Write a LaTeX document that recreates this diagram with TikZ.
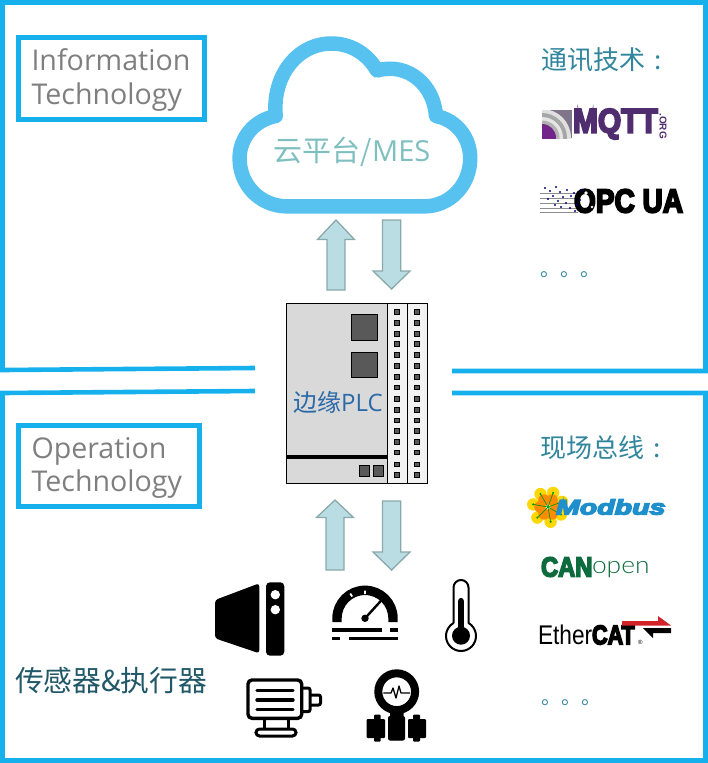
\documentclass[tikz,border=0pt]{standalone}
\usepackage{fontspec}
\usepackage{graphicx}
\setmainfont{Open Sans}
\newfontfamily\cjk{Noto Sans CJK SC}
\newfontfamily\lsans{Liberation Sans}
\newfontfamily\heavy[FakeBold=6]{Liberation Sans Bold}
\newfontfamily\thinf{Lato Light}
\definecolor{frameblue}{HTML}{16B1EC}
\definecolor{cloudblue}{HTML}{57C1F0}
\definecolor{arrowfill}{HTML}{B9DDE3}
\definecolor{arrowline}{HTML}{8AA9AA}
\definecolor{teal1}{HTML}{31859C}
\definecolor{darkteal}{HTML}{215868}
\definecolor{greytext}{HTML}{7F7F7F}
\definecolor{cloudtext}{HTML}{7FBFC0}
\definecolor{plcblue}{HTML}{2A6AA8}
\definecolor{chipgrey}{HTML}{595959}
\definecolor{mqttpurple}{HTML}{4F2D6E}
\definecolor{cangreen}{HTML}{0E6B3D}
\definecolor{modblue}{HTML}{1F8FCB}
\definecolor{ecatred}{HTML}{D2232A}
\tikzset{
  frame/.style={draw=frameblue,line width=4.6pt,line join=miter},
  infobox/.style={draw=frameblue,line width=4.8pt},
  blockarrow/.style={fill=arrowfill,draw=arrowline,line width=1.3pt,line join=miter},
  txt/.style={inner sep=0pt,outer sep=0pt},
  ink/.style={fill=black,draw=none},
  chip/.style={fill=chipgrey,draw=black,line width=0.7pt},
}
\begin{document}
\begin{tikzpicture}[x=1pt,y=-1pt]
\useasboundingbox (0,0) rectangle (708,763);
% frames
\coordinate (ta) at (255,368);
\coordinate (tb) at (452,371);
\coordinate (ba) at (255,391);
\coordinate (bb) at (452,393);
\draw[frame] (ta) -- (2.5,370) -- (2.5,2.5) -- (705.5,2.5) -- (705.5,371) -- (tb);
\draw[frame] (ba) -- (2.5,393) -- (2.5,760.5) -- (705.5,760.5) -- (705.5,393) -- (bb);
% label boxes
\node[infobox,anchor=north west,inner sep=0pt] (itbox) at (16.4,35.4) {\phantom{\rule{186pt}{81.5pt}}};
\node[txt,anchor=west,text=greytext,font=\fontsize{28.6}{30}\selectfont] (it1) at (31.5,60) {Information};
\node[txt,anchor=west,text=greytext,font=\fontsize{28.6}{30}\selectfont] (it2) at (31.5,97) {Technology};
\node[infobox,anchor=north west,inner sep=0pt] (otbox) at (16.4,423.4) {\phantom{\rule{181pt}{80.5pt}}};
\node[txt,anchor=west,text=greytext,font=\fontsize{28.6}{30}\selectfont] (ot1) at (31.5,451) {Operation};
\node[txt,anchor=west,text=greytext,font=\fontsize{28.6}{30}\selectfont] (ot2) at (31.5,484) {Technology};
% cloud
\draw[draw=cloudblue,line width=14.5pt,line join=round] (287.6,206.4)
  .. controls (260,206.4) and (239.6,185) .. (239.6,158.4)
  .. controls (239.6,137) and (255,120) .. (275.7,116)
  .. controls (272,75) and (298,43.5) .. (331.5,43.5)
  .. controls (350,43.5) and (367,53) .. (377,70.5)
  .. controls (408,62) and (434,85) .. (436,116)
  .. controls (456,120) and (470.2,137) .. (470.2,158.4)
  .. controls (470.2,185) and (450,206.4) .. (424,206.4) -- cycle;
\node[txt,text=cloudtext,font=\cjk\fontsize{29}{30}\selectfont] (cloudlbl) at (352,152) {云平台/{\rmfamily MES}};
% arrows
\draw[blockarrow] (336,220) -- (354.5,239.5) -- (345,239.5) -- (345,290) -- (327,290) -- (327,239.5) -- (317.5,239.5) -- cycle;
\draw[blockarrow] (382.5,220) -- (400.8,220) -- (400.8,271) -- (410,271) -- (391.6,289) -- (373,271) -- (382.5,271) -- cycle;
\draw[blockarrow] (335,500) -- (353.5,517.5) -- (344,517.5) -- (344,570) -- (326,570) -- (326,517.5) -- (316.5,517.5) -- cycle;
\draw[blockarrow] (382.5,501) -- (400.8,501) -- (400.8,552) -- (410,552) -- (391.6,570) -- (373,552) -- (382.5,552) -- cycle;
% PLC
\fill[fill=black!15] (286.7,303.3) rectangle (387.3,483.3);
\fill[fill=black!5] (387.3,303.3) rectangle (427.7,483.3);
\draw[black,line width=1pt] (286.7,303.3) rectangle (427.7,483.3);
\draw[black,line width=1pt] (387.3,303.3) -- (387.3,483.3);
\draw[black,line width=1pt] (407.3,303.3) -- (407.3,483.3);
\draw[black,line width=3.6pt] (286.7,456.7) -- (387.3,456.7);
\draw[chip] (351.3,314.3) rectangle (377.7,340.7);
\draw[chip] (351.3,352.3) rectangle (377.7,377.7);
\draw[chip] (359.3,465.3) rectangle (369.7,476.7);
\draw[chip] (373.3,465.3) rectangle (383.7,476.7);
\foreach \yy in {311.7,322.7,333.7,344,355,365.7,376.7,387.3,399,409.7,420.3,431,441.7,452.3,464.3,475}{
  \draw[chip] (394.6,\yy-2.3) rectangle (399.4,\yy+2.3);
  \draw[chip] (414.6,\yy-2.3) rectangle (419.4,\yy+2.3);
}
\node[txt,text=plcblue,font=\cjk\fontsize{24}{26}\selectfont] (plclbl) at (338,402) {边缘{\rmfamily PLC}};
% right headings
\node[txt,anchor=west,text=teal1,font=\cjk\fontsize{26}{26}\selectfont] (comm) at (541,60) {通讯技术\hspace{9pt}:};
\node[txt,anchor=west,text=teal1,font=\cjk\fontsize{26}{26}\selectfont] (field) at (540,448) {现场总线\hspace{9pt}:};
\node[txt,text=teal1,font=\cjk\fontsize{20}{20}\selectfont] (dots1) at (570,275) {。。。};
\node[txt,text=teal1,font=\cjk\fontsize{20}{20}\selectfont] (dots2) at (571,703) {。。。};
\node[txt,anchor=west,text=darkteal,font=\cjk\fontsize{28.8}{29}\selectfont] (sens) at (15,681) {传感器\&执行器};
% MQTT logo
\begin{scope}
\clip (542,110) rectangle (572,138);
\fill[black!45!mqttpurple!60] (542,110) rectangle (572,138);
\fill[black!12] (542,138) circle (29pt);
\fill[black!35] (542,138) circle (25pt);
\fill[black!10] (542,138) circle (21pt);
\fill[black!30] (542,138) circle (17.5pt);
\fill[mqttpurple!80!magenta] (542,138) circle (14pt);
\end{scope}
\node[txt,anchor=west,text=mqttpurple] (mqtt) at (573,124) {\scalebox{.88}[1]{\heavy\fontsize{34}{34}\selectfont MQTT}};
\node[txt,rotate=-90,text=mqttpurple,font=\lsans\bfseries\fontsize{10}{10}\selectfont] (org) at (663,126) {.ORG};
% OPC UA logo
\foreach \yy in {193,198,203,208,212}{\draw[black!45,line width=.6pt] (540,\yy) -- (578,\yy);}
\node[txt,anchor=west,text=black] (opc) at (574,201) {\scalebox{.85}[1]{\heavy\fontsize{33}{33}\selectfont OPC UA}};
\fill[white] (586,193) circle (1.8pt) (584,204) circle (1.6pt) (592,207) circle (1.4pt);
\foreach \px/\py in {545/188,550/191,556/187,560/192,553/196,563/197,548/199,558/201,567/190,571/196,566/203,574/193,561/207,570/208,577/205,555/205,581/190,580/200,575/211}{
  \fill[blue!50!black] (\px,\py) circle (1.1pt);
}
% Modbus logo
\foreach \a in {20,70,120,170,225,280,330}{
  \fill[yellow!75!orange] (548,507) ++(\a:15pt) circle (6.2pt);
}
\foreach \a in {0,60,120,180,240,300}{
  \fill[orange!90!yellow] (548,507) ++(\a:8pt) circle (5.8pt);
}
\foreach \a in {20,70,120,170,225,280,330}{
  \draw[green!60!black,line width=.7pt] (548,507) -- ++(\a:15pt);
  \fill[green!60!black] (548,507) ++(\a:15pt) circle (1.2pt);
}
\node[txt,anchor=west,text=modblue] (modbus) at (556,507) {\scalebox{1.36}[1]{\heavy\itshape\fontsize{21}{21}\selectfont Modbus}};
% CANopen logo
\node[txt,anchor=west,text=cangreen] (can) at (541,567) {\scalebox{.95}[1.1]{\heavy\fontsize{25}{25}\selectfont CAN}};
\node[txt,anchor=west,text=cangreen] (open) at (592,570) {\scalebox{1.1}[1]{\thinf\fontsize{24}{24}\selectfont open}};
% EtherCAT logo
\node[txt,anchor=west,text=black] (ether) at (538,635) {\scalebox{.84}[1]{\lsans\fontsize{27}{27}\selectfont Ether}};
\node[txt,anchor=west,text=black] (cat) at (592,635) {\scalebox{.8}[1]{\heavy\fontsize{27}{27}\selectfont CAT}};
\node[txt,anchor=west,text=black,font=\lsans\fontsize{6}{6}\selectfont] (reg) at (638,642) {®};
\fill[ecatred] (622,621) -- (658,621) -- (658,616) -- (671,625.5) -- (622,625.5) -- cycle;
\fill[black] (671,628) -- (643,628) -- (653,638) -- (653,633) -- (671,633) -- cycle;
% valve icon
\fill[ink,rounded corners=3pt] (215,600) -- (259.3,583.3) -- (259.3,653.3) -- (215,638.3) -- cycle;
\fill[ink,rounded corners=4pt] (266,582.3) rectangle (284.3,655.7);
\fill[white] (275.3,594.7) circle (4.7pt);
\fill[white] (275.3,609.7) circle (4.7pt);
% speedometer icon
\draw[black,line width=9.4pt] (337,622) -- (337,618.3) arc[start angle=180,end angle=0,radius=28pt] -- (393,622);
\fill[white] (364.2,590.5) rectangle (365.8,594) (349.5,594) -- (351,593) -- (353,596) -- (351.5,597) -- cycle;
\draw[black,line width=2.4pt] (365,618.3) -- (382.3,599.3);
\fill[black] (365,618.3) circle (3.7pt);
\fill[ink] (332.3,628.3) rectangle (381.7,632);
\fill[ink] (390,628.3) rectangle (397.7,632);
\fill[ink] (332.3,636.5) rectangle (340.3,640.2);
\fill[ink] (349,636.5) rectangle (397.7,640.2);
% thermometer icon
\draw[black,line width=2pt,line join=round] (453.5,623) -- (453.5,587.5) arc[start angle=180,end angle=0,radius=7.5pt] -- (468.5,623)
  arc[start angle=60,end angle=-240,radius=15pt];
\fill[ink] (458.2,600.7) rectangle (463.8,630);
\fill[black] (461,635.7) circle (9pt);
\fill[black] (461,600.7) circle (2.8pt);
% motor icon
\draw[black,line width=3.4pt,rounded corners=4pt] (248,680) rectangle (301.7,718.3);
\draw[black,line width=3.4pt,line cap=round] (257,690.7) -- (293,690.7);
\draw[black,line width=3.4pt,line cap=round] (257,700) -- (293,700);
\draw[black,line width=3.4pt,line cap=round] (257,709.3) -- (293,709.3);
\draw[black,line width=3pt,rounded corners=2pt] (301.7,688) -- (310,688) -- (310,711.7) -- (301.7,711.7);
\draw[black,line width=3pt,rounded corners=2pt] (310,695) -- (320.5,695) -- (320.5,705) -- (310,705);
\draw[black,line width=3pt] (264,718) -- (264,729) (288,718) -- (288,729);
\draw[black,line width=3pt,rounded corners=3.5pt] (256,729) rectangle (296,736);
% pressure gauge icon
\fill[ink,rounded corners=1.5pt] (390,710) rectangle (403.5,740);
\fill[ink,rounded corners=2pt] (388,716) rectangle (405,740.5);
\fill[ink,rounded corners=1pt] (366.7,719) rectangle (385,738);
\fill[ink,rounded corners=1pt] (374,714.5) rectangle (380.7,741.7);
\fill[ink,rounded corners=1pt] (408,719) rectangle (426,738);
\fill[ink,rounded corners=1pt] (413,714.5) rectangle (420,741.7);
\draw[black,line width=8pt,fill=white] (396.7,691.7) circle (18.4pt);
\draw[black,line width=1.3pt,line join=round] (383.3,693) -- (391,693) -- (393,688) -- (396,698) -- (399,686) -- (401,693) -- (410,693);
\end{tikzpicture}
\end{document}
